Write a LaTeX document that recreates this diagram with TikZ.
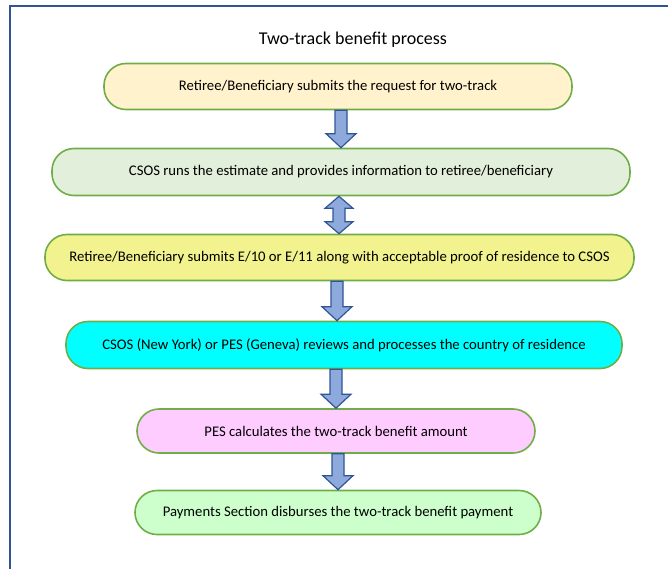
\documentclass[tikz,border=0pt]{standalone}
\usepackage{fontspec}
\setmainfont{Carlito}
\usetikzlibrary{calc}
\definecolor{frameblue}{HTML}{2F5597}
\definecolor{boxgreen}{HTML}{70AD47}
\definecolor{arrowfill}{HTML}{8EA9DB}
\definecolor{arrowline}{HTML}{2F5597}
\definecolor{fa}{HTML}{FFF2CC}
\definecolor{fb}{HTML}{E2EFDA}
\definecolor{fc}{HTML}{F2F28E}
\definecolor{fd}{HTML}{00FFFF}
\definecolor{fe}{HTML}{FFCCFF}
\definecolor{ff}{HTML}{CCFFCC}
\tikzset{
  pill/.style={draw=boxgreen, line width=1.6pt, rounded corners=22pt, inner sep=0pt, font=\fontsize{14.7}{17}\selectfont},
  arr/.style={draw=arrowline, fill=arrowfill, line width=1.2pt, line join=miter},
}
\newcommand\dnarrow[3]{%
  \path[arr] let \p1=(#2.south), \p2=(#3.north) in
    ({#1pt-6pt},\y1) -- ({#1pt+6pt},\y1) -- ({#1pt+6pt},\y2+14pt) -- ({#1pt+15pt},\y2+14pt)
    -- ({#1pt},\y2) -- ({#1pt-15pt},\y2+14pt) -- ({#1pt-6pt},\y2+14pt) -- cycle;}
\newcommand\dblarrow[3]{%
  \path[arr] let \p1=(#2.south), \p2=(#3.north) in
    ({#1pt},\y1) -- ({#1pt+14pt},\y1-12pt) -- ({#1pt+6pt},\y1-12pt) -- ({#1pt+6pt},\y2+12pt)
    -- ({#1pt+14pt},\y2+12pt) -- ({#1pt},\y2) -- ({#1pt-14pt},\y2+12pt) -- ({#1pt-6pt},\y2+12pt)
    -- ({#1pt-6pt},\y1-12pt) -- ({#1pt-14pt},\y1-12pt) -- cycle;}
\begin{document}
\begin{tikzpicture}[x=1pt,y=1pt]
\useasboundingbox (0,0) rectangle (668,-569);
\draw[frameblue, line width=2pt] (10,-569) -- (10,-6) -- (668,-6);
\node[font=\fontsize{18}{21}\selectfont] (title) at (353,-40) {Two-track benefit process};
\node[pill, fill=fa, minimum width=468, minimum height=46] (n1) at (338,-86.5) {Retiree/Beneficiary submits the request for two-track};
\node[pill, fill=fb, minimum width=578, minimum height=47] (n2) at (341,-172) {CSOS runs the estimate and provides information to retiree/beneficiary};
\node[pill, fill=fc, minimum width=589, minimum height=46] (n3) at (339.5,-257.5) {Retiree/Beneficiary submits E/10 or E/11 along with acceptable proof of residence to CSOS};
\node[pill, fill=fd, minimum width=556, minimum height=47] (n4) at (344,-345) {CSOS (New York) or PES (Geneva) reviews and processes the country of residence};
\node[pill, fill=fe, minimum width=398, minimum height=44] (n5) at (336,-431) {PES calculates the two-track benefit amount};
\node[pill, fill=ff, minimum width=406, minimum height=44] (n6) at (338,-512.5) {Payments Section disburses the two-track benefit payment};
\dnarrow{341}{n1}{n2}
\dblarrow{339}{n2}{n3}
\dnarrow{337}{n3}{n4}
\dnarrow{336}{n4}{n5}
\dnarrow{338}{n5}{n6}
\end{tikzpicture}
\end{document}
